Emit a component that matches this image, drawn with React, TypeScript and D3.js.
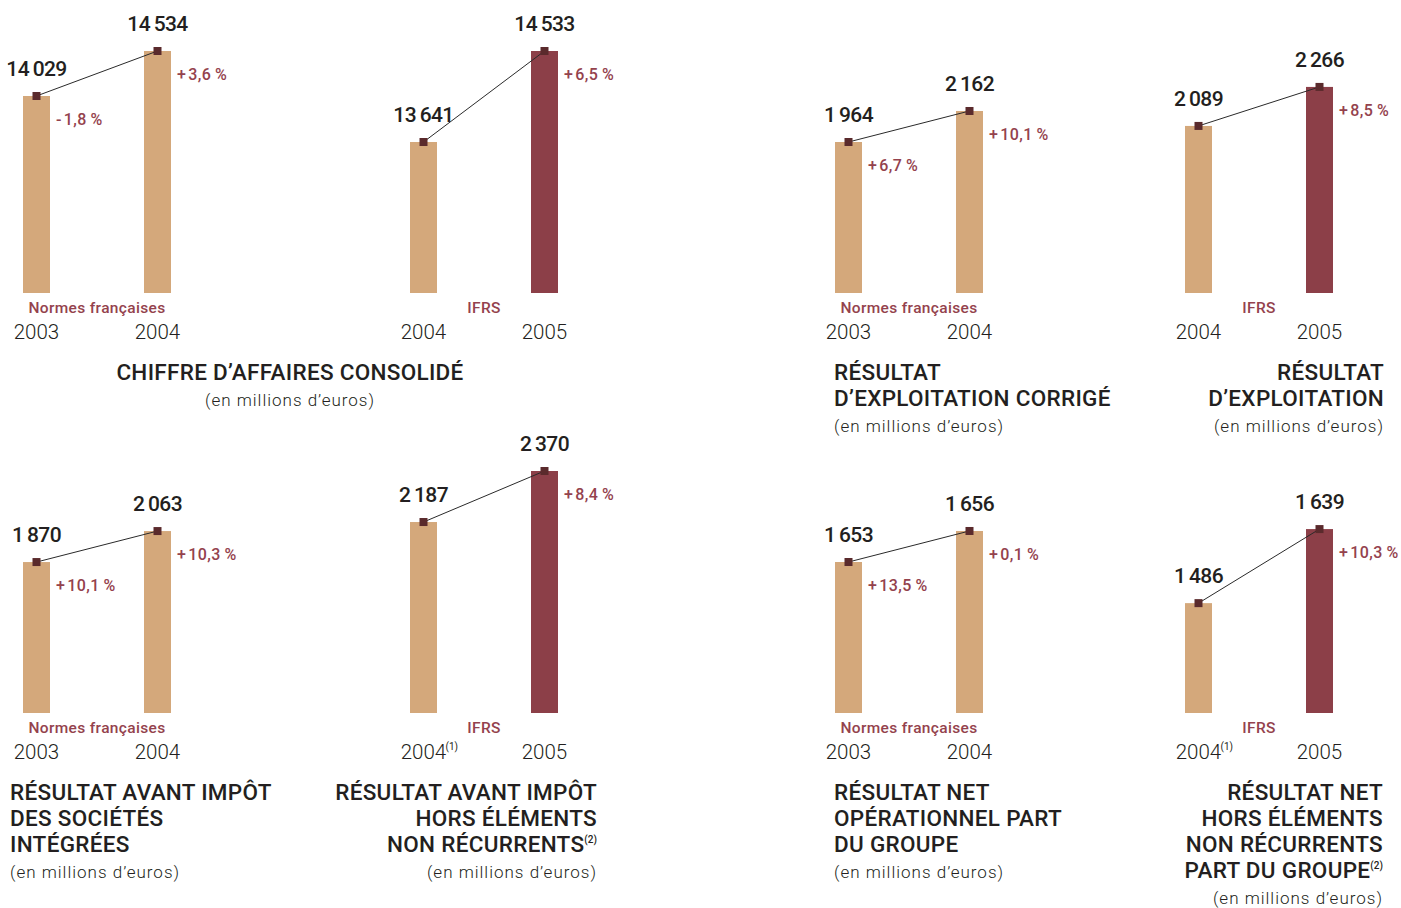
import React from "react";
import * as d3 from "d3";

// ---------- DATA ----------
const panelYears: string[][] = [
  ["2003", "2004"], ["2004", "2005"], ["2003", "2004"], ["2004", "2005"],
  ["2003", "2004"], ["2004", "2005"], ["2003", "2004"], ["2004", "2005"],
];
const panelValues: number[][] = [
  [14029, 14534], [13641, 14533], [1964, 2162], [2089, 2266],
  [1870, 2063], [2187, 2370], [1653, 1656], [1486, 1639],
];
const panelGrowth: (number | null)[][] = [
  [-1.8, 3.6], [null, 6.5], [6.7, 10.1], [null, 8.5],
  [10.1, 10.3], [null, 8.4], [13.5, 0.1], [null, 10.3],
];
const panelNorms: string[] = [
  "Normes françaises", "IFRS", "Normes françaises", "IFRS",
  "Normes françaises", "IFRS", "Normes françaises", "IFRS",
];
const panelYearNotes: (string | null)[][] = [
  [null, null], [null, null], [null, null], [null, null],
  [null, null], ["(1)", null], [null, null], ["(1)", null],
];
// truncated value axis of each panel (bottom, top)
const panelDomains: number[][] = [
  [11818, 14534], [12161, 14533], [1000, 2545], [1331, 2429],
  [930, 2437], [1502, 2370], [1638.4, 1661.8], [1259, 1759],
];
const titleLines: string[][] = [
  ["CHIFFRE D’AFFAIRES CONSOLIDÉ"],
  ["RÉSULTAT", "D’EXPLOITATION CORRIGÉ"],
  ["RÉSULTAT", "D’EXPLOITATION"],
  ["RÉSULTAT AVANT IMPÔT", "DES SOCIÉTÉS", "INTÉGRÉES"],
  ["RÉSULTAT AVANT IMPÔT", "HORS ÉLÉMENTS", "NON RÉCURRENTS"],
  ["RÉSULTAT NET", "OPÉRATIONNEL PART", "DU GROUPE"],
  ["RÉSULTAT NET", "HORS ÉLÉMENTS", "NON RÉCURRENTS", "PART DU GROUPE"],
];
const titleNotes: (string | null)[] = [null, null, null, null, "(2)", null, "(2)"];
const unitLabel = "(en millions d’euros)";

// ---------- LAYOUT ----------
const W = 1401, H = 908;
const panelLeft = [23, 410, 835, 1185];
const barStep = 121;
const barW = 27;
const rowBottom = [293, 713];
const rowTop = [51, 471];
const titlePos: { x: number; y: number; anchor: string }[] = [
  { x: 290, y: 380, anchor: "middle" },
  { x: 834, y: 380, anchor: "start" },
  { x: 1384, y: 380, anchor: "end" },
  { x: 10, y: 800, anchor: "start" },
  { x: 597, y: 800, anchor: "end" },
  { x: 834, y: 800, anchor: "start" },
  { x: 1383, y: 800, anchor: "end" },
];

const TAN = "#d4a87b";
const WINE = "#8c3f48";
const RED_TEXT = "#94424d";
const MARK = "#5a2a2c";
const INK = "#231f20";
const FONT = "Roboto, 'DejaVu Sans', sans-serif";

const locale = d3.formatLocale({
  decimal: ",",
  thousands: "\u2009",
  grouping: [3],
  currency: ["", "€"],
});
const fmtValue = locale.format(",d");
const fmtPct = (v: number) =>
  (v < 0 ? "-\u200a" : "+\u200a") + locale.format(",.1f")(Math.abs(v)) + "\u2009%";

function Panel({ i }: { i: number }) {
  const row = i < 4 ? 0 : 1;
  const col = i % 4;
  const x0 = panelLeft[col];
  const years = panelYears[i];
  const vals = panelValues[i];
  const x = d3
    .scalePoint<string>()
    .domain(years)
    .range([x0 + barW / 2, x0 + barW / 2 + barStep]);
  const y = d3
    .scaleLinear()
    .domain(panelDomains[i])
    .range([rowBottom[row], rowTop[row]]);
  const ifrs = panelNorms[i] === "IFRS";
  const pts = years.map((yr, k) => [x(yr)!, y(vals[k])] as [number, number]);
  const line = d3.line()(pts)!;
  const midX = (pts[0][0] + pts[1][0]) / 2;
  return (
    <g>
      {years.map((yr, k) => (
        <rect
          key={"b" + k}
          x={x(yr)! - barW / 2}
          y={y(vals[k])}
          width={barW}
          height={rowBottom[row] - y(vals[k])}
          fill={ifrs && k === 1 ? WINE : TAN}
        />
      ))}
      <path d={line} stroke="#2a2a2a" strokeWidth={1} fill="none" />
      {pts.map((p, k) => (
        <rect key={"m" + k} x={p[0] - 4} y={p[1] - 4} width={8} height={8} fill={MARK} />
      ))}
      {years.map((yr, k) => (
        <text
          key={"v" + k}
          x={x(yr)}
          y={y(vals[k]) - 20}
          textAnchor="middle"
          fontSize={21}
          fontWeight={500}
          letterSpacing={-0.6}
          fill={INK}
        >
          {fmtValue(vals[k])}
        </text>
      ))}
      {years.map((yr, k) =>
        panelGrowth[i][k] === null ? null : (
          <text
            key={"g" + k}
            x={x(yr)! + barW / 2 + 6}
            y={y(vals[k]) + 29}
            fontSize={16}
            fontWeight={500}
            letterSpacing={0.4}
            fill={RED_TEXT}
          >
            {fmtPct(panelGrowth[i][k] as number)}
          </text>
        )
      )}
      <text
        x={midX}
        y={rowBottom[row] + 20}
        textAnchor="middle"
        fontSize={15.5}
        fontWeight={500}
        letterSpacing={0.35}
        fill={RED_TEXT}
      >
        {panelNorms[i]}
      </text>
      {years.map((yr, k) => (
        <g key={"y" + k}>
          <text
            x={x(yr)}
            y={rowBottom[row] + 46}
            textAnchor="middle"
            fontSize={20.5}
            fontWeight={300}
            fill={INK}
          >
            {yr}
          </text>
          {panelYearNotes[i][k] ? (
            <text x={x(yr)! + 22} y={rowBottom[row] + 37} fontSize={10} fill={INK}>
              {panelYearNotes[i][k]}
            </text>
          ) : null}
        </g>
      ))}
    </g>
  );
}

function Title({ t }: { t: number }) {
  const p = titlePos[t];
  const lines = titleLines[t];
  return (
    <g>
      {lines.map((ln, k) => (
        <text
          key={k}
          x={p.x}
          y={p.y + k * 26}
          textAnchor={p.anchor as any}
          fontSize={22.5}
          fontWeight={500}
          letterSpacing={0.3}
          fill={INK}
        >
          {ln}
          {k === lines.length - 1 && titleNotes[t] ? (
            <tspan fontSize={10} dy={-9} letterSpacing={0}>
              {titleNotes[t]}
            </tspan>
          ) : null}
        </text>
      ))}
      <text
        x={p.x}
        y={p.y + lines.length * 26}
        textAnchor={p.anchor as any}
        fontSize={17}
        fontWeight={300}
        letterSpacing={1}
        fill={INK}
      >
        {unitLabel}
      </text>
    </g>
  );
}

export default function App() {
  return (
    <svg
      width={W}
      height={H}
      style={{ position: "absolute", left: 0, top: 0, background: "#fff" }}
      fontFamily={FONT}
    >
      {panelValues.map((_, i) => (
        <Panel key={i} i={i} />
      ))}
      {titleLines.map((_, t) => (
        <Title key={t} t={t} />
      ))}
    </svg>
  );
}
